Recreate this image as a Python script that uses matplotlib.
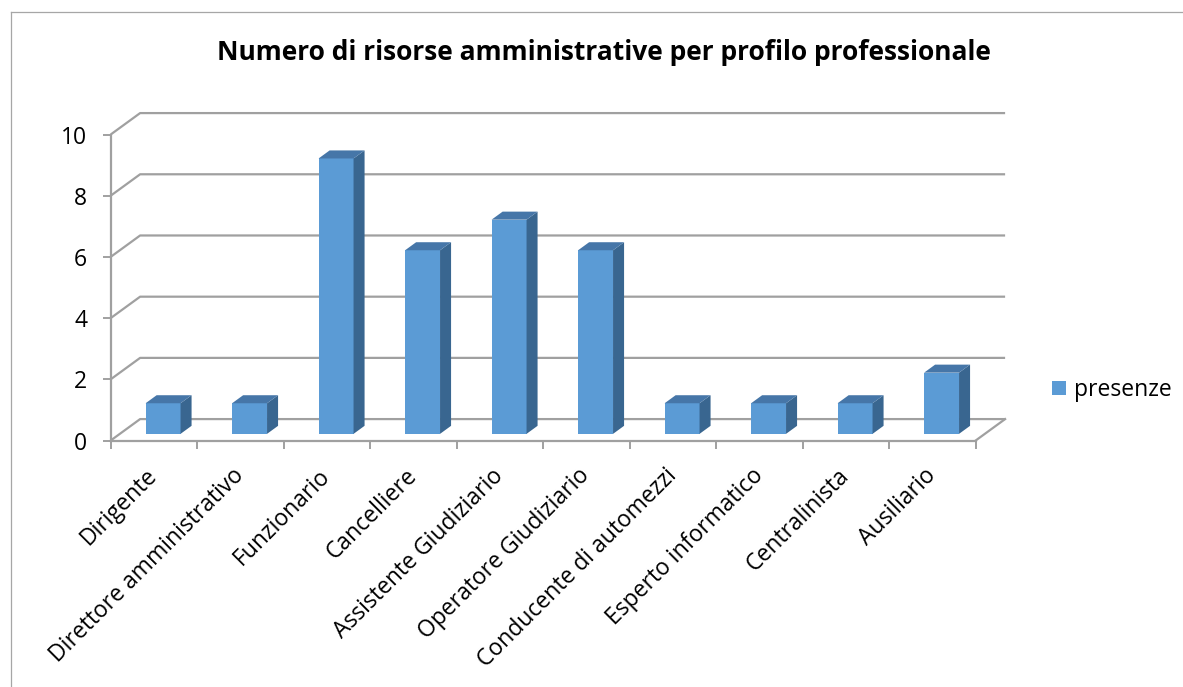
import matplotlib
matplotlib.use("Agg")
import matplotlib.pyplot as plt
from matplotlib.patches import Polygon
from matplotlib.lines import Line2D
import numpy as np

plt.rcParams['font.family'] = ['Open Sans', 'DejaVu Sans']

# data
categorie = ["Dirigente", "Direttore amministrativo", "Funzionario", "Cancelliere",
             "Assistente Giudiziario", "Operatore Giudiziario", "Conducente di automezzi",
             "Esperto informatico", "Centralinista", "Ausiliario"]
presenze = [1, 1, 9, 6, 7, 6, 1, 1, 1, 2]
yticks = [0, 2, 4, 6, 8, 10]
titolo = "Numero di risorse amministrative per profilo professionale"

# colours / 3d look
FRONT = "#5b9bd5"
SIDE = "#396690"
TOP = "#4676a8"
GRID = "#a0a0a0"
DX, DY = 0.34, 0.70      # depth of the floor, in data units
F0, F1 = 0.31, 0.685     # bar depth start/end as fraction of floor depth
W = 0.404                # bar width
FS = 16.5

W_PX, H_PX = 1183, 687
fig = plt.figure(figsize=(W_PX / 100, H_PX / 100), dpi=100)
ax = fig.add_axes([110.7 / W_PX, (H_PX - 440.5) / H_PX, 865 / W_PX, 306 / H_PX])
ax.set_xlim(0, len(categorie))
ax.set_ylim(0, 10)
ax.patch.set_visible(False)

n = len(categorie)
x = np.arange(n) + 0.5

# walls / gridlines
for v in yticks:
    ax.plot([0, DX, n + DX], [v, v + DY, v + DY], color=GRID, lw=1.6, zorder=1,
            clip_on=False, solid_capstyle='butt')
ax.plot([n, n + DX], [0, DY], color=GRID, lw=1.6, zorder=1, clip_on=False)

# bars: front face
sx, sy = F0 * DX, F0 * DY
ddx, ddy = (F1 - F0) * DX, (F1 - F0) * DY
bars = ax.bar(x + sx, presenze, width=W, bottom=sy, color=FRONT, zorder=3,
              clip_on=False, label="presenze")
# side and top faces
for xi, v in zip(x + sx, presenze):
    r = xi + W / 2
    l = xi - W / 2
    top = v + sy
    side = Polygon([[r, sy], [r + ddx, sy + ddy], [r + ddx, top + ddy], [r, top]],
                   closed=True, facecolor=SIDE, edgecolor='none', zorder=3, clip_on=False)
    cap = Polygon([[l, top], [r, top], [r + ddx, top + ddy], [l + ddx, top + ddy]],
                  closed=True, facecolor=TOP, edgecolor='none', zorder=3, clip_on=False)
    ax.add_patch(side)
    ax.add_patch(cap)

# axes
for s in ['top', 'right']:
    ax.spines[s].set_visible(False)
for s in ['left', 'bottom']:
    ax.spines[s].set_color(GRID)
    ax.spines[s].set_linewidth(1.6)
    ax.spines[s].set_zorder(2)

ax.set_yticks(yticks)
ax.tick_params(axis='y', length=5.8, width=1.4, color=GRID, pad=11, labelsize=FS,
               labelcolor='black')
ax.set_xticks(np.arange(n + 1))
ax.set_xticklabels([])
ax.tick_params(axis='x', which='major', length=5.8, width=1.4, color=GRID)
ax.set_xticks(x, minor=True)
ax.set_xticklabels(categorie, minor=True, rotation=45, ha='right', va='center',
                   rotation_mode='anchor')
ax.tick_params(axis='x', which='minor', length=0, pad=23, labelsize=FS)

# title
fig.text(604 / W_PX, 1 - 53 / H_PX, titolo, ha='center', va='center',
         fontsize=19, fontweight='bold')

# legend
fig.legend(handles=[bars], labels=["presenze"], loc='center left',
           bbox_to_anchor=(1052 / W_PX, 1 - 390 / H_PX), frameon=False,
           fontsize=FS, handlelength=0.61, handleheight=0.61, handletextpad=0.35,
           borderpad=0, borderaxespad=0)

# chart border (left and top only visible)
fig.add_artist(Line2D([10.5 / W_PX, 10.5 / W_PX], [0, 1 - 12 / H_PX], color="#a6a6a6", lw=0.9))
fig.add_artist(Line2D([10.5 / W_PX, 1], [1 - 12 / H_PX, 1 - 12 / H_PX], color="#a6a6a6", lw=0.9))

fig.savefig("out.png", dpi=100)
